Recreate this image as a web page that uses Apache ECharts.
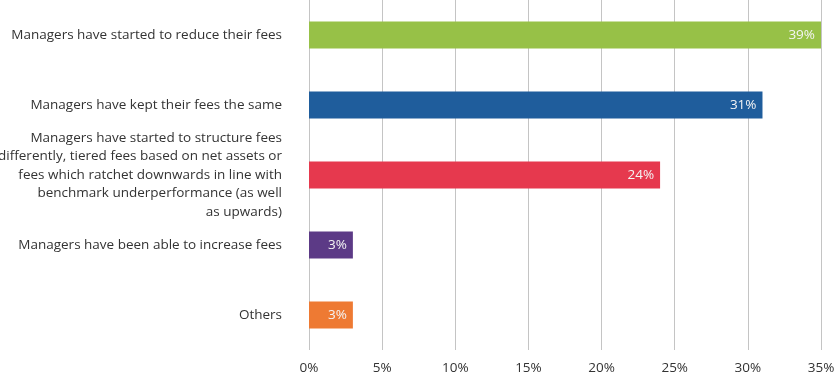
<!DOCTYPE html>
<html>
<head>
<meta charset="utf-8">
<script src="https://cdn.jsdelivr.net/npm/echarts@6/dist/echarts.min.js"></script>
<style>html,body{margin:0;padding:0;background:#fff;}#c{width:839px;height:381px;}</style>
</head>
<body>
<div id="c"></div>
<script>
var categories = [
  "Managers have started to reduce their fees",
  "Managers have kept their fees the same",
  "Managers have started to structure fees\ndifferently, tiered fees based on net assets or\nfees which ratchet downwards in line with\nbenchmark underperformance (as well\nas upwards)",
  "Managers have been able to increase fees",
  "Others"
];
var values = [39, 31, 24, 3, 3];
var colors = ["#97c147", "#1f5d9c", "#e6394e", "#5c3a86", "#ee7a33"];
var tickMax = 35;
var tickStep = 5;

var chart = echarts.init(document.getElementById('c'), null, {renderer: 'canvas'});
chart.setOption({
  animation: false,
  grid: {left: 309, right: 18, top: 0, bottom: 31, containLabel: false, outerBoundsMode: 'none'},
  xAxis: {
    type: 'value', min: 0, max: tickMax, interval: tickStep,
    axisLine: {show: false}, axisTick: {show: false},
    axisLabel: {formatter: '{value}%', color: '#333', fontFamily: 'Open Sans', fontSize: 13.5, margin: 11},
    splitLine: {show: true, lineStyle: {color: '#c4c4c4', width: 1}}
  },
  yAxis: {
    type: 'category', data: categories, inverse: true,
    axisLine: {show: false}, axisTick: {show: false},
    axisLabel: {color: '#333', fontFamily: 'Open Sans', fontSize: 13.5, lineHeight: 18.5, margin: 27, align: 'right'}
  },
  series: [{
    type: 'bar', barWidth: 27, clip: true,
    data: values.map(function (v, i) { return {value: v, itemStyle: {color: colors[i]}}; }),
    label: {show: true, position: 'insideRight', distance: 6, formatter: '{c}%', color: '#f4f4f4', fontFamily: 'Open Sans', fontSize: 13.5}
  }]
});
</script>
</body>
</html>
